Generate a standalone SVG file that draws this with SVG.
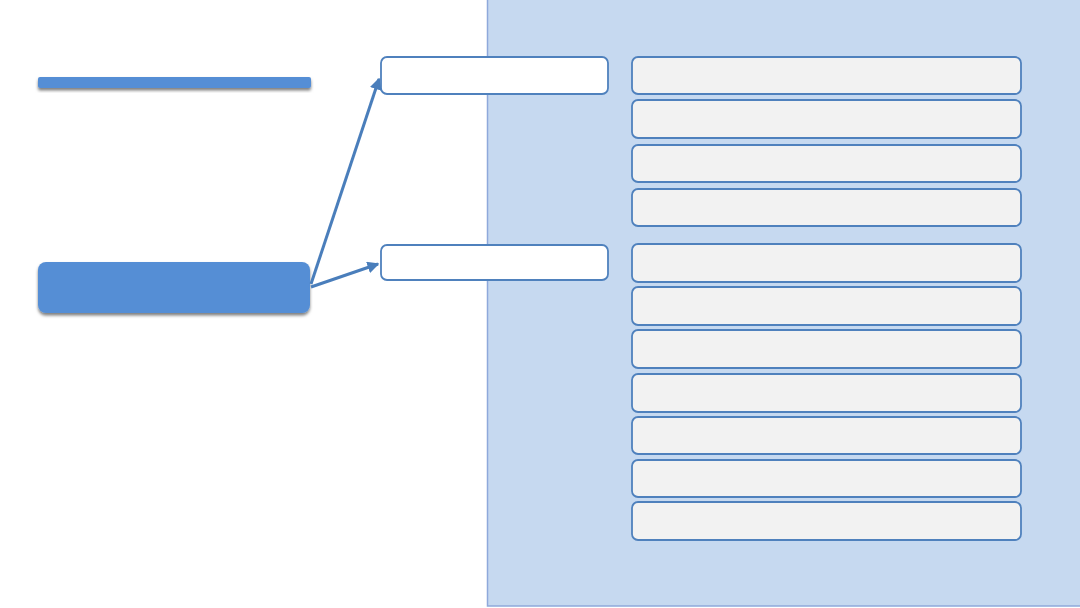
<svg xmlns="http://www.w3.org/2000/svg" width="1080" height="608" viewBox="0 0 1080 608">
<style>
.panel{fill:#C6D9F0;stroke:#8EA9DB;stroke-width:1.5}
.wbox{fill:#FFFFFF;stroke:#4F81BD;stroke-width:1.8}
.gbox{fill:#F2F2F2;stroke:#4F81BD;stroke-width:1.8}
.solid{fill:#558ED5;filter:url(#sh)}
.conn{stroke:#4A7EBB;stroke-width:3;fill:none;marker-end:url(#ah)}
</style>
<defs>
<filter id="sh" x="-10%" y="-30%" width="120%" height="170%">
<feDropShadow dx="0" dy="2.5" stdDeviation="1.8" flood-color="#000" flood-opacity="0.5"/>
</filter>
<marker id="ah" markerWidth="4" markerHeight="4" refX="3.5" refY="2" orient="auto" markerUnits="strokeWidth">
<path d="M0,0 L4,2 L0,4 Z" fill="#4A7EBB"/>
</marker>
</defs>
<rect width="1080" height="608" fill="#FFFFFF"/>
<g id="panel"><rect class="panel" x="487.5" y="-2" width="596" height="608"/></g>
<g id="title-bar"><rect class="solid" x="38" y="77" width="273" height="11" rx="2"/></g>
<g id="source"><rect class="solid" x="38" y="262" width="272" height="51" rx="8"/></g>
<g id="target1"><rect class="wbox" x="381" y="57" width="227" height="37" rx="6"/></g>
<g id="target2"><rect class="wbox" x="381" y="245" width="227" height="35" rx="6"/></g>
<g id="list">
<g id="item1"><rect class="gbox" x="632" y="57" width="389" height="37" rx="6"/></g>
<g id="item2"><rect class="gbox" x="632" y="100" width="389" height="38" rx="6"/></g>
<g id="item3"><rect class="gbox" x="632" y="145" width="389" height="37" rx="6"/></g>
<g id="item4"><rect class="gbox" x="632" y="189" width="389" height="37" rx="6"/></g>
<g id="item5"><rect class="gbox" x="632" y="244" width="389" height="38" rx="6"/></g>
<g id="item6"><rect class="gbox" x="632" y="287" width="389" height="38" rx="6"/></g>
<g id="item7"><rect class="gbox" x="632" y="330" width="389" height="38" rx="6"/></g>
<g id="item8"><rect class="gbox" x="632" y="374" width="389" height="38" rx="6"/></g>
<g id="item9"><rect class="gbox" x="632" y="417" width="389" height="37" rx="6"/></g>
<g id="item10"><rect class="gbox" x="632" y="460" width="389" height="37" rx="6"/></g>
<g id="item11"><rect class="gbox" x="632" y="502" width="389" height="38" rx="6"/></g>
</g>
<g id="connectors">
<line class="conn" x1="311" y1="284" x2="379" y2="79"/>
<line class="conn" x1="311" y1="287" x2="378" y2="264"/>
</g>
</svg>
